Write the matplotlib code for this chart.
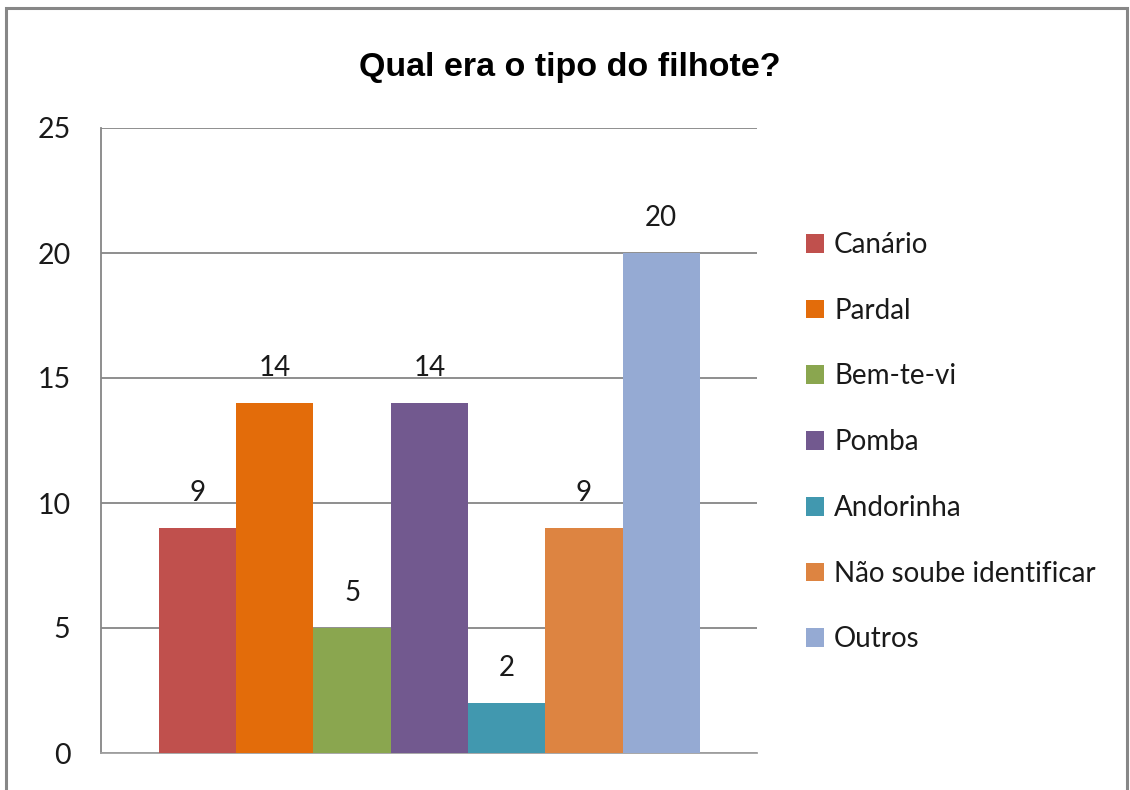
import matplotlib
matplotlib.use("Agg")
import matplotlib.pyplot as plt
from matplotlib.patches import Rectangle, Patch
import numpy as np

title = "Qual era o tipo do filhote?"
categories = ["Canário", "Pardal", "Bem-te-vi", "Pomba", "Andorinha",
              "Não soube identificar", "Outros"]
values = [9, 14, 5, 14, 2, 9, 20]
colors = ["#C0504D", "#E36C0A", "#8AA64F", "#72598F", "#4198AF", "#DD8441", "#95AAD3"]
yticks = [0, 5, 10, 15, 20, 25]

plt.rcParams['font.family'] = ['Lato', 'DejaVu Sans']

fig = plt.figure(figsize=(11.3, 7.9), dpi=100)
W, H = 1130, 790

# figure border
fig.patches.append(Rectangle((6 / W, -0.1), (1127 - 6) / W, 1.1 - 8 / H,
                             transform=fig.transFigure, fill=False,
                             edgecolor="#878787", linewidth=2.2, zorder=0))

ax = fig.add_axes([101 / W, 1 - 753 / H, (757 - 101) / W, (753 - 128) / H])
pos = np.arange(len(values)) - (len(values) - 1) / 2
bars = ax.bar(pos, values, width=1.0, color=colors, edgecolor="none", zorder=3)
ax.set_xlim(-4.25, 4.24)
ax.set_ylim(0, 25)
ax.set_yticks(yticks)
ax.set_xticks([])
ax.yaxis.grid(True, color="#868686", linewidth=1.3, zorder=0)
ax.set_axisbelow(True)
for s in ["top", "right"]:
    ax.spines[s].set_visible(False)
ax.spines["left"].set_color("#868686")
ax.spines["bottom"].set_color("#A0A0A0")
ax.spines["left"].set_linewidth(1.3)
ax.spines["bottom"].set_linewidth(1.3)
ax.tick_params(axis="y", length=0, pad=22, labelsize=20.5, labelcolor="#1a1a1a")

ax.bar_label(bars, labels=[str(v) for v in values], padding=16, fontsize=20,
             color="#1a1a1a")

fig.text(570 / W, 1 - 76 / H, title, ha="center", va="baseline",
         fontsize=24.5, fontweight="bold", family=["Liberation Sans", "DejaVu Sans"])

handles = [Patch(facecolor=c, edgecolor="none") for c in colors]
fig.legend(handles, categories, loc="upper left",
           bbox_to_anchor=(806 / W, 1 - 232 / H), frameon=False,
           fontsize=20, handlelength=0.66, handleheight=0.66, handletextpad=0.35,
           labelspacing=1.43, borderpad=0, borderaxespad=0, labelcolor="#1a1a1a")

fig.savefig("out.png", dpi=100)
